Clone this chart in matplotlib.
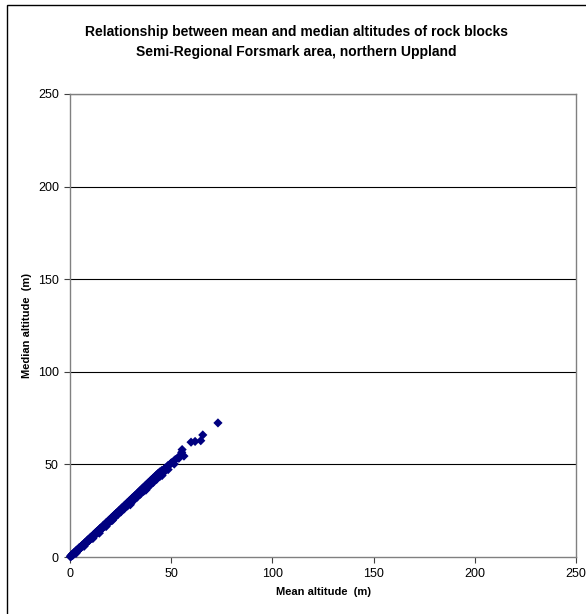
import matplotlib
matplotlib.use("Agg")
import matplotlib.pyplot as plt
from matplotlib.patches import Rectangle

plt.rcParams['font.family'] = ['Liberation Sans', 'DejaVu Sans']

# Mean altitude (m) of rock blocks
mean_alt = [
    0.2, 0.4, 0.6, 0.9, 1.1, 1.3, 1.6, 1.9, 2.1, 2.4, 2.8, 3.1, 3.5, 3.8, 4.2,
    4.6, 5.0, 5.3, 5.7, 6.1, 6.5, 6.8, 7.2, 7.6, 8.0, 8.3, 8.7, 9.1, 9.5, 9.9,
    10.3, 10.7, 11.1, 11.5, 11.9, 12.3, 12.7, 13.1, 13.5, 13.9, 14.3, 14.7,
    15.1, 15.5, 15.9, 16.3, 16.7, 17.1, 17.5, 17.9, 18.3, 18.7, 19.1, 19.5,
    19.9, 20.3, 20.7, 21.1, 21.5, 21.9, 22.3, 22.7, 23.1, 23.5, 23.9, 24.3,
    24.7, 25.1, 25.5, 25.9, 26.3, 26.7, 27.1, 27.5, 27.9, 28.3, 28.7, 29.1,
    29.5, 29.9, 30.3, 30.7, 31.1, 31.5, 31.9, 32.3, 32.7, 33.1, 33.5, 33.9,
    34.3, 34.7, 35.1, 35.5, 35.9, 36.3, 36.7, 37.1, 37.5, 37.9, 38.3, 38.7,
    39.1, 39.5, 39.9, 40.3, 40.7, 41.1, 41.5, 41.9, 42.3, 42.7, 43.1, 43.5,
    43.9, 44.3, 44.8, 45.3, 45.8, 46.4, 47.0, 47.6, 48.3, 49.0, 49.8, 50.5,
    51.3, 52.0, 53.8, 54.0, 55.2, 56.3, 55.4, 59.8, 61.8, 64.6, 65.6, 73.1,
    # second band of points
    0.5, 1.0, 1.5, 2.0, 2.6, 3.2, 3.9, 4.5, 5.2, 5.9, 6.6, 7.3, 8.0, 8.8,
    9.5, 10.2, 11.0, 11.8, 12.5, 13.3, 14.0, 14.8, 15.6, 16.4, 17.2, 18.0,
    18.8, 19.6, 20.4, 21.2, 22.0, 22.8, 23.6, 24.4, 25.2, 26.0, 26.8, 27.6,
    28.4, 29.2, 30.0, 30.8, 31.6, 32.4, 33.2, 34.0, 34.8, 35.6, 36.4, 37.2,
    38.0, 38.8, 39.6, 40.4, 41.2, 42.0, 42.8, 43.6, 44.4, 45.2, 46.0, 47.3,
    48.5, 50.0, 51.5, 14.5, 21.0, 29.8, 37.5, 45.5, 3.0, 7.0, 11.3, 17.9,
]

# Median altitude (m) of rock blocks
median_alt = [
    0.1, 0.5, 0.4, 1.0, 0.8, 1.5, 1.3, 2.0, 1.9, 2.6, 2.5, 3.3, 3.2, 4.0, 3.9,
    4.8, 4.6, 5.6, 5.4, 6.4, 6.1, 7.1, 6.8, 7.9, 7.6, 8.7, 8.3, 9.5, 9.1, 10.3,
    9.9, 11.1, 10.7, 11.9, 11.5, 12.8, 12.3, 13.6, 13.1, 14.4, 13.9, 15.2,
    14.7, 16.0, 15.5, 16.8, 16.3, 17.6, 17.1, 18.5, 17.9, 19.3, 18.7, 20.1,
    19.5, 21.0, 20.3, 21.8, 21.1, 22.7, 22.0, 23.5, 22.8, 24.3, 23.6, 25.1,
    24.4, 25.9, 25.2, 26.8, 26.0, 27.6, 26.9, 28.4, 27.7, 29.3, 28.5, 30.1,
    29.3, 30.9, 30.1, 31.8, 31.0, 32.6, 31.8, 33.4, 32.6, 34.2, 33.4, 35.1,
    34.2, 35.9, 35.1, 36.8, 35.9, 37.6, 36.8, 38.4, 37.6, 39.3, 38.4, 40.1,
    39.3, 40.9, 40.1, 41.8, 40.9, 42.6, 41.8, 43.4, 42.6, 44.3, 43.4, 45.1,
    44.3, 45.9, 45.3, 46.7, 46.5, 47.2, 48.0, 48.0, 49.3, 49.6, 50.5, 51.0,
    51.8, 52.6, 53.3, 54.5, 56.5, 54.5, 58.0, 62.0, 62.4, 62.8, 65.9, 72.4,
    # second band of points
    0.7, 1.4, 1.1, 2.4, 2.2, 3.7, 3.5, 5.0, 4.8, 6.3, 6.1, 7.6, 7.4, 9.1,
    8.9, 10.6, 10.4, 12.2, 11.9, 13.8, 13.4, 15.3, 15.0, 16.9, 16.5, 18.6,
    18.1, 20.2, 19.6, 21.8, 21.2, 23.4, 22.8, 25.0, 24.4, 26.7, 26.0, 28.3,
    27.6, 29.9, 29.1, 31.5, 30.7, 33.1, 32.3, 34.7, 33.9, 36.3, 35.5, 37.9,
    37.1, 39.5, 38.7, 41.2, 40.3, 42.8, 41.9, 44.4, 43.5, 46.1, 45.3, 47.9,
    47.2, 50.8, 50.2, 12.9, 19.8, 28.2, 36.1, 44.0, 2.0, 5.8, 10.0, 16.5,
]

x_ticks = [0, 50, 100, 150, 200, 250]
y_ticks = [0, 50, 100, 150, 200, 250]

fig = plt.figure(figsize=(5.86, 6.14), dpi=100)
fig.patch.set_facecolor('white')

# outer chart border
fig.patches.append(Rectangle((7 / 586, -0.01), 1.2, 1 - 4.5 / 614 + 0.01,
                             transform=fig.transFigure, fill=False,
                             edgecolor='black', linewidth=1.0))

ax = fig.add_axes([70 / 586, (614 - 557) / 614, (576 - 70) / 586, (557 - 94) / 614])
ax.scatter(mean_alt, median_alt, marker='D', s=22, color='#000080',
           edgecolors='none', zorder=3, clip_on=False)

ax.set_xlim(0, 250)
ax.set_ylim(0, 250)
ax.set_xticks(x_ticks)
ax.set_yticks(y_ticks)
ax.set_xticklabels([str(t) for t in x_ticks])
ax.set_yticklabels([str(t) for t in y_ticks])
ax.tick_params(axis='both', direction='out', length=4, width=0.8,
               color='#404040', labelsize=9, pad=4)

for s in ax.spines.values():
    s.set_color('#808080')
    s.set_linewidth(1.0)

for yv in y_ticks[1:]:
    ax.axhline(yv, color='black', linewidth=0.8, zorder=1)

ax.set_xlabel('Mean altitude  (m)', fontsize=8, fontweight='bold', labelpad=5)
ax.set_ylabel('Median altitude  (m)', fontsize=8, fontweight='bold', labelpad=4)

fig.text(0.5 + 7 / 586 / 2, 1 - 32 / 614, 'Relationship between mean and median altitudes of rock blocks',
         ha='center', va='center', fontsize=10, fontweight='bold')
fig.text(0.5 + 7 / 586 / 2, 1 - 52 / 614, 'Semi-Regional Forsmark area, northern Uppland',
         ha='center', va='center', fontsize=10, fontweight='bold')

fig.savefig('out.png', dpi=100)
